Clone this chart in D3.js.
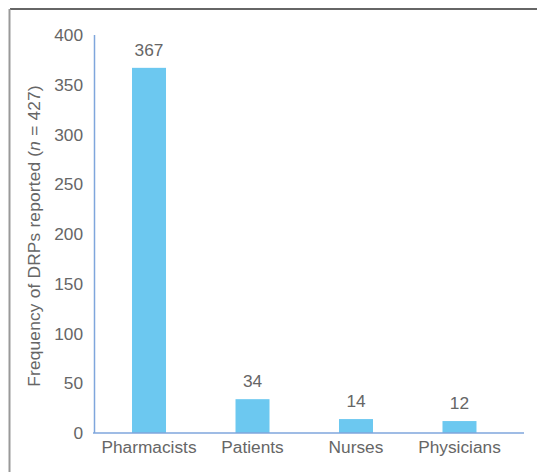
<!DOCTYPE html>
<html>
<head>
<meta charset="utf-8">
<script src="https://cdn.jsdelivr.net/npm/d3@7"></script>
<style>
  body { margin: 0; background: #fff; }
  text { font-family: "Liberation Sans", Arial, sans-serif; fill: #666; }
</style>
</head>
<body>
<div id="chart-area"><svg></svg></div>
<script>
const categories = ["Pharmacists", "Patients", "Nurses", "Physicians"];
const counts = [367, 34, 14, 12];
const yTicks = [0, 50, 100, 150, 200, 250, 300, 350, 400];

const chartSize = { width: 538, height: 472 };
const margin = { left: 96, right: 22, top: 35, bottom: 39 };
const width = chartSize.width - margin.left - margin.right;
const height = chartSize.height - margin.top - margin.bottom;
const fontSize = "17.3px";

const svg = d3.select("#chart-area svg")
  .attr("width", chartSize.width)
  .attr("height", chartSize.height);

// frame: top and left edges only
svg.append("line")
  .attr("x1", 10).attr("x2", 537).attr("y1", 9).attr("y2", 9)
  .attr("stroke", "#333").attr("stroke-width", 1.5);
svg.append("line")
  .attr("x1", 9.5).attr("x2", 9.5).attr("y1", 9).attr("y2", 472)
  .attr("stroke", "#999").attr("stroke-width", 2);

const g = svg.append("g")
  .attr("transform", `translate(${margin.left}, ${margin.top})`);

const x = d3.scaleBand()
  .domain(categories)
  .range([0, 416.5])
  .paddingInner(0.6715)
  .paddingOuter(0.348);

const y = d3.scaleLinear().domain([0, 400]).range([height, 0]);

const yAxis = d3.axisLeft(y).tickValues(yTicks).tickSize(0).tickPadding(13);
const yG = g.append("g").attr("class", "y-axis").call(yAxis);
yG.select(".domain").remove();
yG.attr("font-family", null).attr("font-size", null);
yG.selectAll("text").style("font-size", fontSize).attr("fill", null);

g.append("line")
  .attr("x1", -1.5).attr("x2", -1.5).attr("y1", 0).attr("y2", height)
  .attr("stroke", "#7fa6dc").attr("stroke-width", 1.5);

g.selectAll(".bar")
  .data(counts)
  .join("rect")
  .attr("class", "bar")
  .attr("x", (d, i) => x(categories[i]))
  .attr("y", d => y(d))
  .attr("width", x.bandwidth())
  .attr("height", d => height - y(d))
  .attr("fill", "#6cc8f0");

g.append("line")
  .attr("x1", -3).attr("x2", width + 8).attr("y1", height).attr("y2", height)
  .attr("stroke", "#7fa6dc").attr("stroke-width", 1.5);

g.selectAll(".value")
  .data(counts)
  .join("text")
  .attr("class", "value")
  .attr("x", (d, i) => x(categories[i]) + x.bandwidth() / 2)
  .attr("y", d => y(d) - 12)
  .attr("text-anchor", "middle")
  .style("font-size", fontSize)
  .text(d => d);

g.selectAll(".cat")
  .data(categories)
  .join("text")
  .attr("class", "cat")
  .attr("x", d => x(d) + x.bandwidth() / 2)
  .attr("y", height + 20)
  .attr("text-anchor", "middle")
  .style("font-size", fontSize)
  .text(d => d);

const title = svg.append("text")
  .attr("transform", `translate(40, ${margin.top + height / 2 + 2}) rotate(-90)`)
  .attr("text-anchor", "middle")
  .style("font-size", fontSize)
  .style("letter-spacing", "0.2px");
title.append("tspan").text("Frequency of DRPs reported (");
title.append("tspan").style("font-style", "italic").text("n");
title.append("tspan").text(" = 427)");
</script>
</body>
</html>
